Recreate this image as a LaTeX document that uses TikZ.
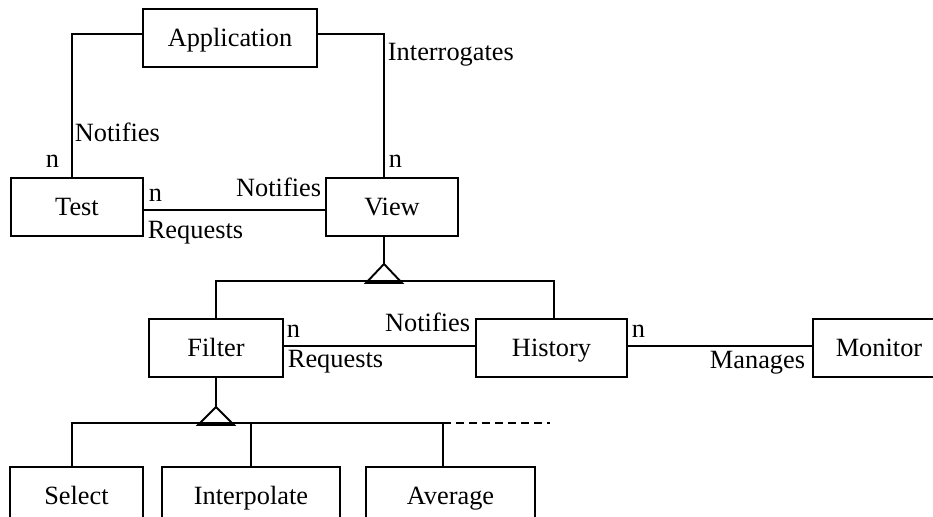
\documentclass[tikz,border=0pt]{standalone}
\usepackage{fontspec}
\setmainfont{Liberation Serif}
\tikzstyle{entity} = [rectangle, minimum height=1.16cm, inner sep=0pt, text height=12pt, text depth=1.8pt, text centered, draw=black, line width=1.1pt, font=\fontsize{15}{18}\selectfont]
\tikzstyle{link} = [line width=1.1pt]
\tikzstyle{rel} = [inner sep=0pt, font=\fontsize{15}{18}\selectfont]

\begin{document}
\begin{tikzpicture}[x=0.02cm, y=-0.02cm]
\path[use as bounding box] (0,0) rectangle (933,517);
\clip (0,0) rectangle (933,517);

\node (app)     [entity, minimum width=3.48cm] at (230,38)    {Application};
\node (test)    [entity, minimum width=2.64cm] at (77,207)    {Test};
\node (view)    [entity, minimum width=2.64cm] at (392,207)   {View};
\node (filter)  [entity, minimum width=2.68cm] at (216,348)   {Filter};
\node (history) [entity, minimum width=3.02cm] at (551.5,348) {History};
\node (monitor) [entity, minimum width=2.64cm] at (879,348)   {Monitor};
\node (select)  [entity, minimum width=2.66cm] at (76.5,496)  {Select};
\node (interp)  [entity, minimum width=3.56cm] at (251,496)   {Interpolate};
\node (average) [entity, minimum width=3.38cm] at (450.5,496) {Average};

% Application relations
\draw [link] ([yshift=0.08cm]app.west) -| ([xshift=-0.1cm]test.north)
  node[rel, at end, anchor=base west, xshift=0.04cm, yshift=0.72cm] (lnot1) {Notifies}
  node[rel, at end, anchor=base east, xshift=-0.24cm, yshift=0.2cm] (ln1) {n};
\draw [link] ([yshift=0.08cm]app.east) -| ([xshift=-0.16cm]view.north)
  node[rel, at end, anchor=base west, xshift=0.06cm, yshift=2.34cm] (lint) {Interrogates}
  node[rel, at end, anchor=base west, xshift=0.08cm, yshift=0.2cm] (ln2) {n};

% Test -- View
\draw [link] ([yshift=-0.06cm]test.east) -- ([yshift=-0.06cm]view.west)
  node[rel, at start, anchor=base west, xshift=0.08cm, yshift=0.18cm] (ln3) {n}
  node[rel, at start, anchor=base west, xshift=0.06cm, yshift=-0.58cm] (lreq1) {Requests}
  node[rel, at end, anchor=base east, xshift=-0.06cm, yshift=0.28cm] (lnot2) {Notifies};

% View specialisations
\draw [link] ([xshift=-0.16cm]view.south) -- ++(0,27) coordinate (vapex);
\draw [link] (vapex) -- ++(-18,19) -- ++(36,0) -- cycle;
\draw [link] (filter.north) -- ++(0,-37) -| ([xshift=0.05cm]history.north);

% Filter -- History -- Monitor
\draw [link] ([yshift=0.04cm]filter.east) -- ([yshift=0.04cm]history.west)
  node[rel, at start, anchor=base west, xshift=0.04cm, yshift=0.18cm] (ln4) {n}
  node[rel, at start, anchor=base west, xshift=0.06cm, yshift=-0.44cm] (lreq2) {Requests}
  node[rel, at end, anchor=base east, xshift=-0.08cm, yshift=0.3cm] (lnot3) {Notifies};
\draw [link] ([yshift=0.04cm]history.east) -- ([yshift=0.04cm]monitor.west)
  node[rel, at start, anchor=base west, xshift=0.06cm, yshift=0.18cm] (ln5) {n}
  node[rel, at end, anchor=base east, xshift=-0.12cm, yshift=-0.46cm] (lman) {Manages};

% Filter specialisations
\draw [link] (filter.south) -- ++(0,29) coordinate (fapex);
\draw [link] (fapex) -- ++(-18,18) -- ++(36,0) -- cycle;
\draw [link] ([xshift=-0.09cm]select.north) -- ++(0,-43) -| ([xshift=-0.15cm]average.north);
\draw [link] (interp.north) -- ++(0,-43);
\draw [link, dash pattern=on 0.16cm off 0.1cm] ([xshift=-0.15cm]average.north) ++(0,-43) -- ++(107,0);

\end{tikzpicture}
\end{document}
